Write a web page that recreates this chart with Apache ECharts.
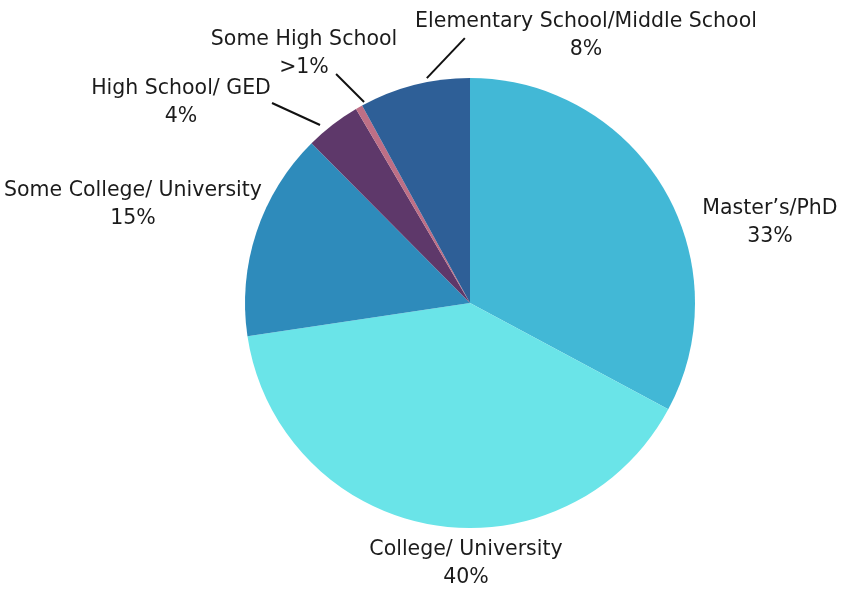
<!DOCTYPE html>
<html>
<head>
<meta charset="utf-8">
<script src="https://cdn.jsdelivr.net/npm/echarts@6/dist/echarts.min.js"></script>
<style>
  html, body { margin: 0; padding: 0; background: #ffffff; }
  #chart { width: 842px; height: 589px; }
</style>
</head>
<body>
<div id="chart"></div>
<script>
// Highest level of education reached
const categories = [
  'Master’s/PhD',
  'College/ University',
  'Some College/ University',
  'High School/ GED',
  'Some High School',
  'Elementary School/Middle School'
];
const shares = [33, 40, 15, 4, 0.5, 8];
const shareLabels = ['33%', '40%', '15%', '4%', '>1%', '8%'];

// presentation
const sliceColors = ['#42B8D6', '#6AE4E8', '#2E8BBB', '#5E386A', '#BE6F86', '#2E5F97'];
const labelCentre = [[770, 222.5], [466, 564], [133, 204.5], [181, 103], [304, 54], [586, 36]];
// leader lines: nudge of the start point from the slice anchor, and the run to the label
const leaderNudge = [null, null, null, [-9, 5], [8, 0], [14, -1]];
const leaderOffset = [null, null, null, [-48, -22], [-28, -28], [38, -40]];

const chart = echarts.init(document.getElementById('chart'), null, { renderer: 'canvas' });

const data = categories.map((name, i) => ({
  name: name,
  value: shares[i],
  itemStyle: { color: sliceColors[i] },
  labelLine: {
    show: leaderOffset[i] != null,
    length: 10,
    length2: 0,
    lineStyle: { color: '#111111', width: 2 }
  }
}));

chart.setOption({
  animation: false,
  backgroundColor: '#ffffff',
  series: [{
    type: 'pie',
    center: [470, 303],
    radius: 225,
    startAngle: 90,
    clockwise: true,
    avoidLabelOverlap: false,
    itemStyle: { borderWidth: 0 },
    emphasis: { disabled: true },
    label: {
      show: true,
      position: 'outside',
      color: '#1b1b1b',
      fontFamily: '"DejaVu Sans", sans-serif',
      fontSize: 20.5,
      lineHeight: 28,
      formatter: p => categories[p.dataIndex] + '\n' + shareLabels[p.dataIndex]
    },
    labelLayout: function (p) {
      const i = p.dataIndex;
      const c = labelCentre[i];
      const out = { x: c[0], y: c[1], align: 'center', verticalAlign: 'middle' };
      const off = leaderOffset[i];
      if (off && p.labelLinePoints && p.labelLinePoints.length > 1) {
        const a = p.labelLinePoints[0];
        const b = p.labelLinePoints[1];
        const dx = b[0] - a[0];
        const dy = b[1] - a[1];
        const len = Math.hypot(dx, dy) || 1;
        const n = leaderNudge[i];
        const s = [a[0] + dx / len * 6 + n[0], a[1] + dy / len * 6 + n[1]];
        out.labelLinePoints = [s, [s[0] + off[0], s[1] + off[1]]];
      }
      return out;
    },
    data: data
  }]
});
</script>
</body>
</html>
